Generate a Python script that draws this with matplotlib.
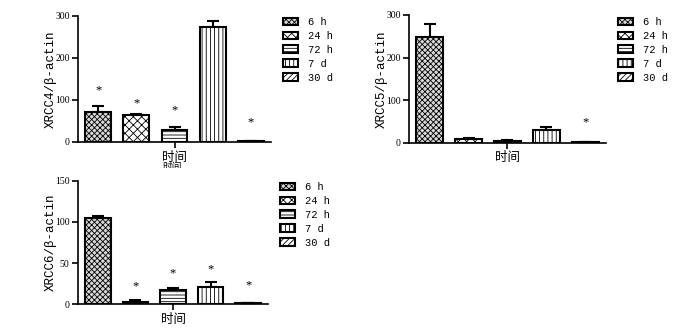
import matplotlib
matplotlib.use("Agg")
import matplotlib.pyplot as plt
import numpy as np
from matplotlib.transforms import Bbox, TransformedBbox

plt.rcParams['hatch.linewidth'] = 0.6
plt.rcParams['font.family'] = ['Liberation Serif', 'Noto Sans CJK SC', 'DejaVu Sans']

groups = ["6 h", "24 h", "72 h", "7 d", "30 d"]
hatches = ["xxxxxx", "xxxx", "-----", "||||", "//////"]
faces = ["0.85", "white", "white", "white", "white"]

xrcc4_mean = [72, 63, 29, 273, 1.5]
xrcc4_err = [13, 3, 6, 14, 0.5]
xrcc4_star = [123, 93, 76, None, 47]

xrcc5_mean = [249, 8, 5, 31, 2]
xrcc5_err = [30, 2, 1, 6, 0.5]
xrcc5_star = [None, None, None, None, 47]

xrcc6_mean = [104.4, 3.2, 17.4, 21.4, 1.5]
xrcc6_err = [2.4, 2.4, 2.6, 6.1, 0.3]
xrcc6_star = [None, 22, 37.6, 43, 23.4]

W, H = 700, 335
fig = plt.figure(figsize=(7, 3.35), dpi=100)
mono = ['Liberation Mono', 'Noto Sans CJK SC', 'DejaVu Sans Mono']

def px_axes(l, r, t, b):
    return fig.add_axes([l / W, 1 - b / H, (r - l) / W, (b - t) / H])

def panel(ax, mean, err, star, ymax, yticks, ylabel, legend_xy):
    x = np.arange(len(groups))
    bars = ax.bar(x, mean, width=0.68, color=faces, edgecolor='black',
                  linewidth=1.5, hatch=hatches, label=groups, zorder=2)
    ax.errorbar(x, mean, yerr=[np.zeros(len(err)), err], fmt='none',
                ecolor='black', elinewidth=1.5, capsize=4, capthick=1.5, zorder=1)
    for xi, s in zip(x, star):
        if s is not None:
            ax.text(xi, s, '*', ha='center', va='center', fontsize=9)
    ax.set_xlim(-0.53, 4.53)
    ax.set_ylim(0, ymax)
    ax.set_yticks(yticks)
    ax.set_xticks([2])
    ax.set_xticklabels([''])
    for s in ['top', 'right']:
        ax.spines[s].set_visible(False)
    for s in ['left', 'bottom']:
        ax.spines[s].set_linewidth(1.2)
    ax.tick_params(axis='both', direction='out', length=4, width=1.2, labelsize=7, pad=2)
    ax.set_ylabel(ylabel, fontsize=9, labelpad=-1, family=mono)
    ax.set_xlabel('时间', fontsize=9, labelpad=1)
    handles = list(bars)
    leg = ax.legend(handles, groups, loc='upper left',
                    bbox_to_anchor=(legend_xy[0] / W, 1 - legend_xy[1] / H),
                    bbox_transform=fig.transFigure, frameon=False,
                    prop={'family': mono, 'size': 7.5},
                    handlelength=1.4, handleheight=0.75, handletextpad=1.0,
                    labelspacing=0.38, borderpad=0, borderaxespad=0)
    for p in leg.get_patches():
        p.set_linewidth(1.5)
    return ax

ax1 = px_axes(78, 271, 15.7, 142)
panel(ax1, xrcc4_mean, xrcc4_err, xrcc4_star, 300, [0, 100, 200, 300],
      'XRCC4/β-actin', (283, 17))
ax2 = px_axes(409, 606, 15, 142.7)
panel(ax2, xrcc5_mean, xrcc5_err, xrcc5_star, 300, [0, 100, 200, 300],
      'XRCC5/β-actin', (618, 17))
ax3 = px_axes(78, 268, 180.7, 304.3)
panel(ax3, xrcc6_mean, xrcc6_err, xrcc6_star, 150, [0, 50, 100, 150],
      'XRCC6/β-actin', (280, 182))

# clipped duplicate label artifact under the first panel
t = fig.text(172 / W, 1 - 167 / H, '时间', ha='center', va='center', fontsize=7)
t.set_clip_box(TransformedBbox(Bbox([[0, 1 - 167.5 / H], [1, 1]]), fig.transFigure))
t.set_clip_on(True)

fig.savefig('out.png', dpi=100)
